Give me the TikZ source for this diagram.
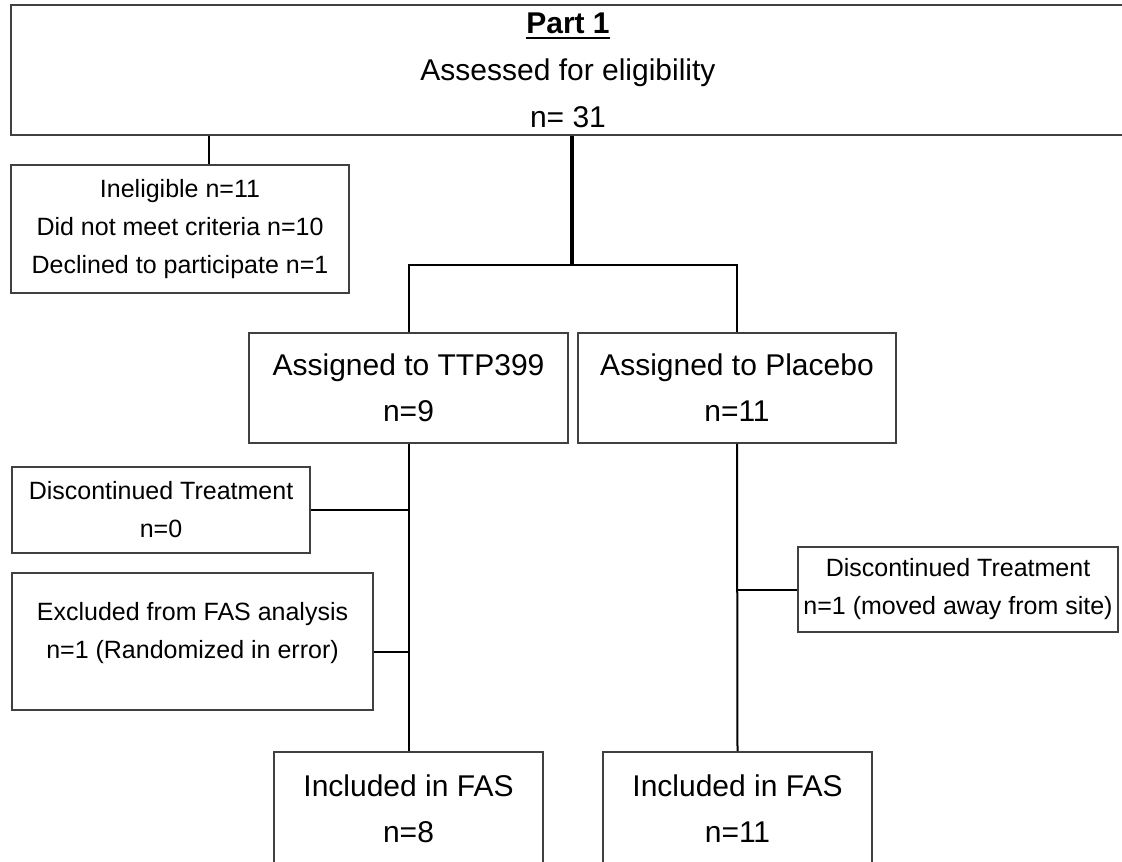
\documentclass[tikz,border=0pt]{standalone}
\usepackage{fontspec}
\setmainfont{Liberation Sans}
\usetikzlibrary{positioning,calc}

\newcommand\thickul[1]{\setbox0\hbox{#1}\rlap{\rule[-6pt]{\wd0}{2.6pt}}\box0}

\begin{document}
\begin{tikzpicture}[
  x=1pt, y=-1pt,
  box/.style={draw=black!75, line width=1.8pt, rectangle, align=center, inner sep=0pt},
  small/.style={box, font=\fontsize{25}{38}\selectfont},
  big/.style={box, font=\fontsize{30}{46}\selectfont},
  link/.style={line width=2pt},
  trunk/.style={line width=3.4pt}
]
\useasboundingbox (0,0) rectangle (1122,862);

\node[big, font=\fontsize{30}{47}\selectfont, minimum width=1114pt, minimum height=130pt] (top) at (568,70) {\thickul{\textbf{Part 1}}\\Assessed for eligibility\\n= 31};
\node[small, minimum width=338pt, minimum height=128pt] (inelig) at (180,229) {Ineligible n=11\\Did not meet criteria n=10\\Declined to participate n=1};
\node[big, minimum width=319pt, minimum height=110pt] (ttp) at (408.5,388) {Assigned to TTP399\\n=9};
\node[big, minimum width=318pt, minimum height=110pt] (placebo) at (737,388) {Assigned to Placebo\\n=11};
\node[small, minimum width=298pt, minimum height=86pt] (disc1) at (161,510) {Discontinued Treatment\\n=0};
\node[small, text depth=22pt, minimum width=361pt, minimum height=137pt] (excl) at (192.5,641.5) {Excluded from FAS analysis\\n=1 (Randomized in error)};
\node[small, minimum width=320pt, minimum height=85pt] (disc2) at (958,589.5) {Discontinued Treatment\\n=1 (moved away from site)};
\node[big, minimum width=269pt, minimum height=114pt] (incl1) at (408.5,809) {Included in FAS\\n=8};
\node[big, minimum width=269pt, minimum height=114pt] (incl2) at (737.5,809) {Included in FAS\\n=11};

\coordinate (drop) at (209,0);
\coordinate (split) at (572,265);
\coordinate (exclpt) at ([yshift=-10pt]excl.east);

\draw[link] (top.south -| drop) -- (inelig.north -| drop);
\draw[trunk] (top.south -| split) -- (split);
\draw[link] (ttp.north) |- (split) -| (placebo.north);
\draw[link] (ttp.south) -- (incl1.north);
\draw[link] (placebo.south) -- (incl2.north);
\draw[link] (disc1.east) -- (disc1.east -| ttp.south);
\draw[link] (exclpt) -- (exclpt -| ttp.south);
\draw[link] (disc2.west) -- (disc2.west -| placebo.south);
\end{tikzpicture}
\end{document}
